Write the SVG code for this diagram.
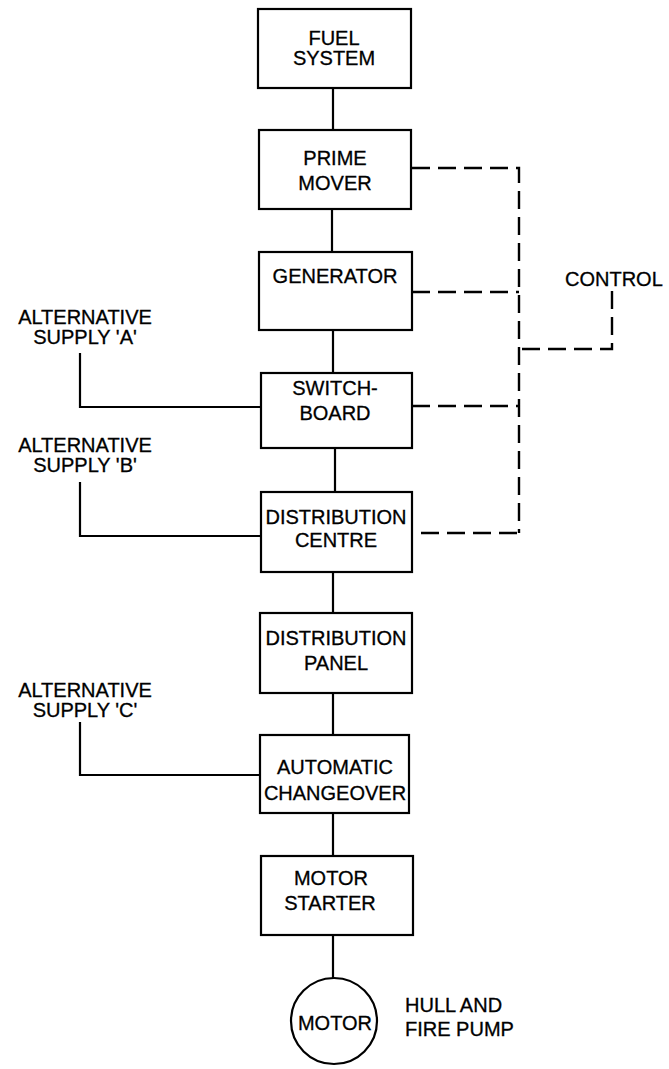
<svg xmlns="http://www.w3.org/2000/svg" width="669" height="1069" viewBox="0 0 669 1069">
<style>
.box{fill:#fff;stroke:#000;stroke-width:2.2}
.t{font-family:"Liberation Sans",Arial,sans-serif;font-size:20px;fill:#000;stroke:#000;stroke-width:0.3;text-anchor:middle}
.tl{font-family:"Liberation Sans",Arial,sans-serif;font-size:20px;fill:#000;stroke:#000;stroke-width:0.3}
.ln{fill:none;stroke:#000;stroke-width:2.2}
.dash{fill:none;stroke:#000;stroke-width:2.4;stroke-dasharray:18 8}
</style>
<rect width="669" height="1069" fill="#fff"/>
<g id="connectors">
<path class="ln" d="M333 88V130M332 209V252M333 330V373M335 448V492M333 572V613M333 693V735M333 813V856M333 935V978"/>
<path class="ln" d="M80 353V407H261M80 482V536H261M80 722V775H260"/>
<path class="dash" d="M412 168H519V533M412 292H519M412 406H519M421 533H519M612 291V349H519"/>
</g>
<g id="fuel-system"><rect class="box" x="258" y="9" width="153" height="79"/><text class="t" x="334" y="45">FUEL</text><text class="t" x="334" y="65">SYSTEM</text></g>
<g id="prime-mover"><rect class="box" x="259" y="130" width="152" height="79"/><text class="t" x="335" y="165">PRIME</text><text class="t" x="335" y="190">MOVER</text></g>
<g id="generator"><rect class="box" x="259" y="252" width="153" height="78"/><text class="t" x="335" y="283">GENERATOR</text></g>
<g id="switchboard"><rect class="box" x="261" y="373" width="151" height="75"/><text class="t" x="335" y="395">SWITCH-</text><text class="t" x="335" y="420">BOARD</text></g>
<g id="distribution-centre"><rect class="box" x="261" y="492" width="151" height="80"/><text class="t" x="336" y="524">DISTRIBUTION</text><text class="t" x="336" y="547">CENTRE</text></g>
<g id="distribution-panel"><rect class="box" x="260" y="613" width="152" height="80"/><text class="t" x="336" y="645">DISTRIBUTION</text><text class="t" x="336" y="670">PANEL</text></g>
<g id="automatic-changeover"><rect class="box" x="260" y="735" width="149" height="78"/><text class="t" x="335" y="774">AUTOMATIC</text><text class="t" x="335" y="800">CHANGEOVER</text></g>
<g id="motor-starter"><rect class="box" x="261" y="856" width="152" height="79"/><text class="t" x="331" y="885">MOTOR</text><text class="t" x="330" y="910">STARTER</text></g>
<g id="motor"><circle class="box" cx="334" cy="1021" r="43"/><text class="t" x="335" y="1030">MOTOR</text></g>
<g id="hull-fire-pump-label"><text class="tl" x="405" y="1012">HULL AND</text><text class="tl" x="405" y="1036">FIRE PUMP</text></g>
<g id="control-label"><text class="tl" x="565" y="286">CONTROL</text></g>
<g id="supply-a"><text class="t" x="85" y="324">ALTERNATIVE</text><text class="t" x="85" y="344">SUPPLY 'A'</text></g>
<g id="supply-b"><text class="t" x="85" y="452">ALTERNATIVE</text><text class="t" x="85" y="472">SUPPLY 'B'</text></g>
<g id="supply-c"><text class="t" x="85" y="697">ALTERNATIVE</text><text class="t" x="85" y="717">SUPPLY 'C'</text></g>
</svg>
